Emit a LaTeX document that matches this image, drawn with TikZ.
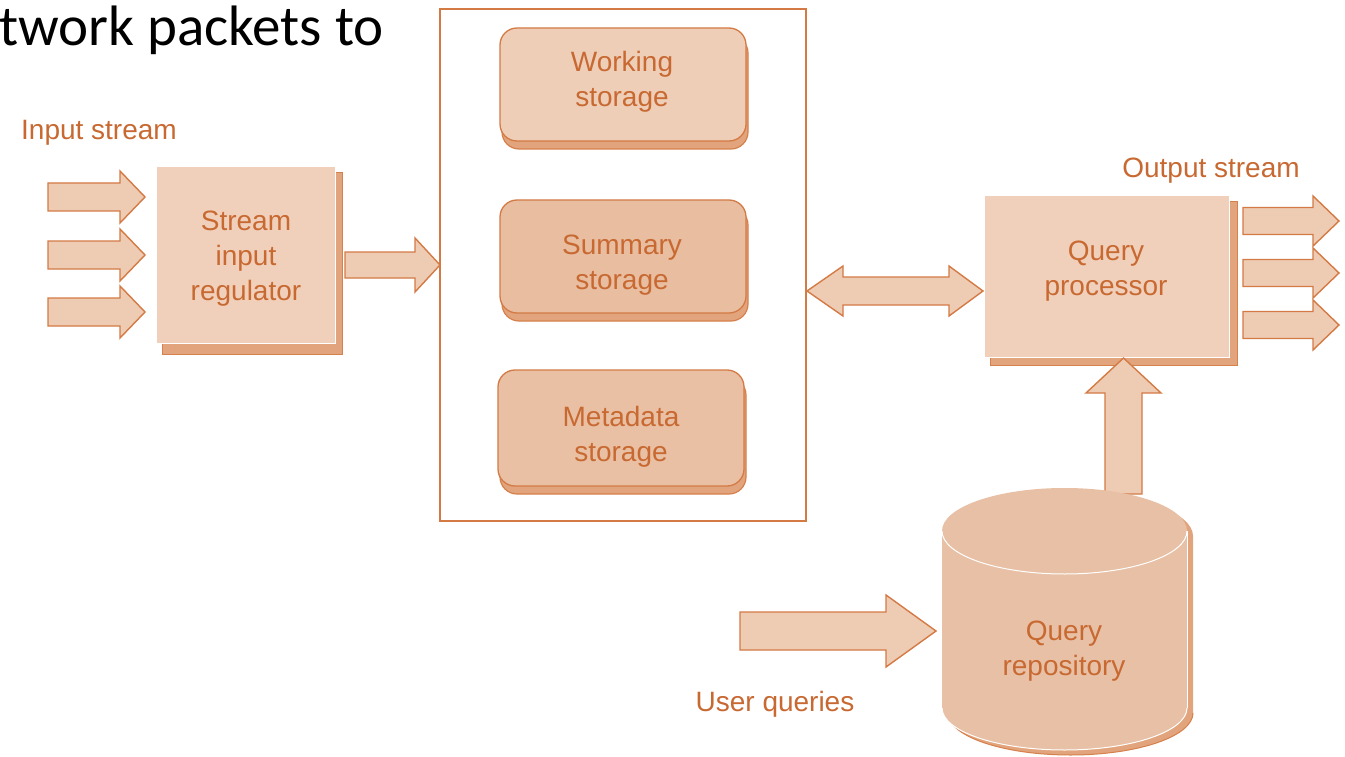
\documentclass[tikz,border=0pt]{standalone}
\usepackage{fontspec}
\setmainfont{Liberation Sans}
\newfontfamily\titlefnt{Carlito}
\definecolor{txt}{RGB}{200,105,50}
\definecolor{edge}{RGB}{212,122,68}
\definecolor{face}{RGB}{240,208,186}
\definecolor{shadowc}{RGB}{226,164,124}
\definecolor{shadowe}{RGB}{214,128,76}
\definecolor{arrowfill}{RGB}{238,204,180}
\definecolor{workc}{RGB}{239,206,184}
\definecolor{summc}{RGB}{232,189,160}
\definecolor{metac}{RGB}{233,192,164}
\definecolor{cylc}{RGB}{232,192,165}
\tikzset{
  lbl/.style={text=txt, font=\fontsize{28}{35}\selectfont, inner sep=0pt, align=center},
  blk/.style={fill=arrowfill, draw=edge, line width=1.4pt, line join=miter},
  sqface/.style={fill=face, draw=white, line width=1pt},
  sqshadow/.style={fill=shadowc, draw=shadowe, line width=1pt},
  rndface/.style={draw=edge, line width=1.3pt, rounded corners=17pt},
  rndshadow/.style={fill=shadowc, draw=shadowe, line width=1.2pt, rounded corners=17pt},
}
% right-pointing block arrow: #1 x start, #2 head base x, #3 tip x, #4 y, #5 shaft half, #6 head half
\newcommand\rblockarrow[6]{%
  \draw[blk] (#1,#4-#5) -- (#2,#4-#5) -- (#2,#4-#6) -- (#3,#4) -- (#2,#4+#6) -- (#2,#4+#5) -- (#1,#4+#5) -- cycle;}
\begin{document}
\begin{tikzpicture}[x=1pt,y=-1pt]
\useasboundingbox (0,0) rectangle (1345,757);
\fill[white] (0,0) rectangle (1345,757);

% title fragment
\node[anchor=base west, inner sep=0pt, font=\titlefnt\fontsize{57}{64}\selectfont] (title) at (-1,46) {twork packets to};

% labels
\node[lbl, anchor=base] (instream) at (99,140) {Input stream};
\node[lbl, anchor=base] (outstream) at (1211,178) {Output stream};
\node[lbl, anchor=base] (userq) at (775,711) {User queries};

% stream input regulator
\draw[sqshadow] (162,173) rectangle (342,354);
\draw[sqface] (156,167) rectangle (335,343);
\node[lbl] (reg) at (246,259) {Stream\\input\\regulator};

% input arrows
\rblockarrow{48}{120}{145}{197}{14}{26}
\rblockarrow{48}{120}{145}{255}{14}{26}
\rblockarrow{48}{120}{145}{312}{14}{26}

% storage container
\draw[edge, line width=1.5pt] (440,9) rectangle (806,521);

% regulator -> storage
\rblockarrow{345}{415}{440}{265}{13}{27}

% storage boxes
\draw[rndshadow] (502,36) rectangle (748,149);
\draw[rndface, fill=workc] (500,28) rectangle (746,141);
\node[lbl] (work) at (622,82) {Working\\storage};

\draw[rndshadow] (502,208) rectangle (748,321);
\draw[rndface, fill=summc] (500,200) rectangle (746,313);
\node[lbl] (summ) at (622,265) {Summary\\storage};

\draw[rndshadow] (500,378) rectangle (746,494);
\draw[rndface, fill=metac] (498,370) rectangle (744,486);
\node[lbl] (meta) at (621,437) {Metadata\\storage};

% double arrow storage <-> query processor
\draw[blk] (807,291) -- (843,266) -- (843,277) -- (949,277) -- (949,266) -- (983,291)
  -- (949,316) -- (949,305) -- (843,305) -- (843,316) -- cycle;

% query processor
\draw[sqshadow] (990,202) rectangle (1237,365);
\draw[sqface] (984,196) rectangle (1229,357);
\node[lbl] (qp) at (1106,271) {Query\\processor};

% output arrows
\rblockarrow{1243}{1313}{1339}{221}{13.5}{25}
\rblockarrow{1243}{1313}{1339}{273}{13.5}{25}
\rblockarrow{1243}{1313}{1339}{325}{13.5}{25}

% up arrow repository -> processor (drawn below the cylinder)
\draw[blk] (1105,494) -- (1105,393) -- (1086,393) -- (1123.5,358) -- (1161,393) -- (1142,393) -- (1142,494) -- cycle;

% query repository cylinder
\fill[shadowc] (948,536) -- (948,713) arc[start angle=180, end angle=0, x radius=122.5, y radius=42]
  -- (1193,536) arc[start angle=0, end angle=-180, x radius=122.5, y radius=43] -- cycle;
\draw[shadowe, line width=1pt] (948,713) arc[start angle=180, end angle=0, x radius=122.5, y radius=42];
\fill[cylc] (942,531) -- (942,708) arc[start angle=180, end angle=0, x radius=122.5, y radius=42]
  -- (1187,531) arc[start angle=0, end angle=-180, x radius=122.5, y radius=43] -- cycle;
\draw[white, line width=1pt] (942,531) arc[start angle=180, end angle=0, x radius=122.5, y radius=43];
\draw[white, line width=1pt] (942,708) arc[start angle=180, end angle=0, x radius=122.5, y radius=42];
\draw[white, line width=0.8pt] (1187,531) -- (1187,708);
\node[lbl] (repo) at (1064,651) {Query\\repository};

% user queries arrow
\rblockarrow{740}{886}{936}{631}{19}{36}
\end{tikzpicture}
\end{document}
